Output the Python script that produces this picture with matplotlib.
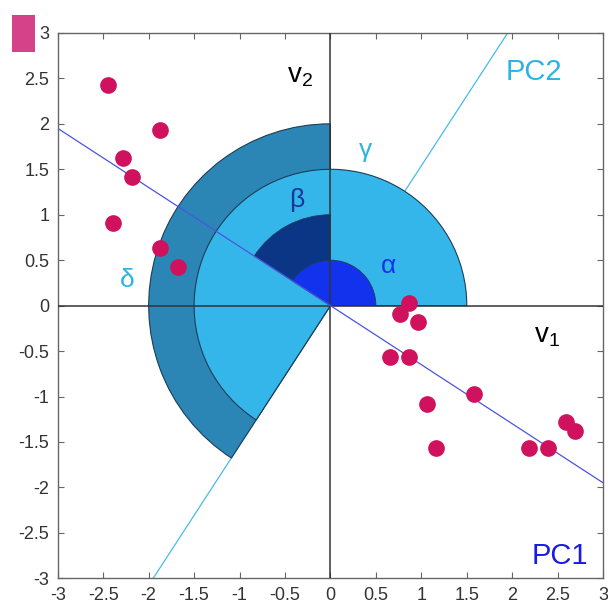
import matplotlib
matplotlib.use('Agg')
from matplotlib import pyplot as plt
from matplotlib.patches import Wedge, Rectangle
import numpy as np

# data points
xs = [-2.45, -1.88, -2.28, -2.18, -2.39, -1.88, -1.68,
      0.86, 0.76, 0.96, 0.66, 0.86, 1.06, 1.16, 1.58, 2.18, 2.39, 2.59, 2.69]
ys = [2.43, 1.93, 1.62, 1.42, 0.91, 0.63, 0.43,
      0.03, -0.09, -0.18, -0.57, -0.57, -1.08, -1.57, -0.97, -1.57, -1.57, -1.28, -1.38]

pc1_slope = -0.65
ticks = [-3, -2.5, -2, -1.5, -1, -0.5, 0, 0.5, 1, 1.5, 2, 2.5, 3]
tick_labels = ['-3', '-2.5', '-2', '-1.5', '-1', '-0.5', '0', '0.5', '1', '1.5', '2', '2.5', '3']

plt.rcParams['font.family'] = ['Liberation Sans', 'DejaVu Sans']
plt.rcParams['mathtext.fontset'] = 'custom'
plt.rcParams['mathtext.rm'] = 'Liberation Sans'


def main():
    fig = plt.figure(figsize=(6.08, 6.10), dpi=100)
    ax = fig.add_axes([0.095, 0.052, 0.897, 0.894])

    a1 = np.degrees(np.arctan2(-pc1_slope, -1))            # PC1 upper-left direction
    a2 = np.degrees(np.arctan2(1 / pc1_slope, -1)) + 360   # PC2 lower-left direction

    edge = '#1d3d55'
    ax.add_patch(Wedge((0, 0), 2.0, 90, a2, facecolor='#2b86b6', edgecolor=edge, lw=0.8, zorder=2))
    ax.add_patch(Wedge((0, 0), 1.5, 0, a2, facecolor='#35b6ea', edgecolor=edge, lw=0.8, zorder=3))
    ax.add_patch(Wedge((0, 0), 1.0, 90, a1, facecolor='#0b3585', edgecolor=edge, lw=0.6, zorder=4))
    ax.add_patch(Wedge((0, 0), 0.5, 0, a1, facecolor='#1232ee', edgecolor=edge, lw=0.6, zorder=5))

    # axes through origin
    ax.axhline(0, color='#333333', lw=1.1, zorder=6)
    ax.axvline(0, color='#333333', lw=1.1, zorder=6)

    # principal components
    xx = np.array([-3.5, 3.5])
    ax.plot(xx, pc1_slope * xx, color='#4a55e0', lw=0.9, zorder=7)
    ax.plot(xx, -xx / pc1_slope, color='#45bce8', lw=0.9, zorder=1)

    ax.plot(xs, ys, 'o', color='#d0115e', markersize=11, zorder=8, clip_on=False)

    ax.text(-0.34, 2.53, r'$\mathregular{v_2}$', fontsize=20, ha='center', va='center', zorder=9)
    ax.text(2.38, -0.33, r'$\mathregular{v_1}$', fontsize=20, ha='center', va='center', zorder=9)
    ax.text(2.24, 2.57, 'PC2', fontsize=21, color='#2ab4e6', ha='center', va='center', zorder=9)
    ax.text(2.52, -2.75, 'PC1', fontsize=21, color='#1a1ae6', ha='center', va='center', zorder=9)
    ax.text(0.39, 1.71, 'γ', fontsize=19, color='#2ab4e6', ha='center', va='center', zorder=9)
    ax.text(-0.37, 1.16, 'β', fontsize=19, color='#16379a', ha='center', va='center', zorder=9)
    ax.text(0.64, 0.44, 'α', fontsize=19, color='#1232ee', ha='center', va='center', zorder=9)
    ax.text(-2.24, 0.28, 'δ', fontsize=19, color='#2ab4e6', ha='center', va='center', zorder=9)

    ax.set_xlim(-3, 3)
    ax.set_ylim(-3, 3)
    ax.set_xticks(ticks)
    ax.set_xticklabels(tick_labels)
    ax.set_yticks(ticks)
    ax.set_yticklabels(tick_labels)
    ax.tick_params(direction='in', length=4, top=True, right=True,
                   labelsize=13, labelcolor='#333333', color='#666666', pad=6)
    for s in ax.spines.values():
        s.set_color('#666666')
        s.set_linewidth(1.0)

    # stray magenta patch at top-left
    fig.add_artist(Rectangle((12 / 608, 1 - 52 / 610), 23 / 608, 37 / 610,
                             transform=fig.transFigure, facecolor='#d6428a', edgecolor='none'))

    fig.savefig('out.png')


if __name__ == '__main__':
    main()
